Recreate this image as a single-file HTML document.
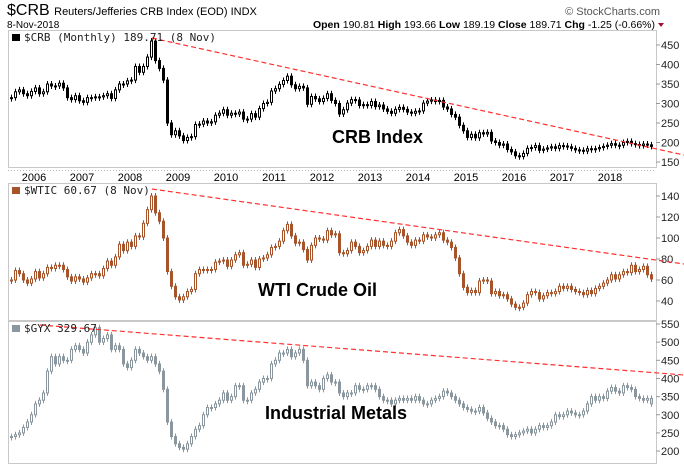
<!DOCTYPE html>
<html><head><meta charset="utf-8"><style>
body{margin:0;background:#fff;width:684px;height:465px;overflow:hidden;font-family:"Liberation Sans",sans-serif}
svg{display:block}
</style></head><body>
<svg width="684" height="465" id="c" font-family="Liberation Sans, sans-serif">
<text x="7" y="15" font-size="16">$CRB <tspan font-size="11">Reuters/Jefferies CRB Index (EOD)  INDX</tspan></text>
<text x="660" y="15" font-size="11" fill="#555" text-anchor="end">© StockCharts.com</text>
<text x="7" y="28" font-size="10">8-Nov-2018</text>
<text x="655" y="28" font-size="10.5" text-anchor="end"><tspan font-weight="bold">Open</tspan> 190.81 <tspan font-weight="bold">High</tspan> 193.66 <tspan font-weight="bold">Low</tspan> 189.19 <tspan font-weight="bold">Close</tspan> 189.71 <tspan font-weight="bold">Chg</tspan> -1.25 (-0.66%)</text>
<path d="M658 23 l6 0 l-3 4z" fill="#a01030"/>
</svg>
<script>
const years=[2006,2007,2008,2009,2010,2011,2012,2013,2014,2015,2016,2017,2018];
const startYear=2005.5;
const crb=[315,330,335,325,320,331,
340,325,330,350,345,345,352,340,315,310,320,307,
303,315,315,317,317,320,325,313,335,350,350,358,
360,395,380,395,419,460,410,390,360,250,220,230,
217,205,213,215,246,247,255,250,253,270,275,284,
270,275,273,278,260,260,274,265,287,300,303,332,
338,349,359,370,348,338,344,340,298,318,312,305,
313,325,308,300,273,284,301,310,309,295,297,295,
305,292,296,286,280,275,285,290,285,278,275,280,
281,301,306,309,305,308,291,286,272,265,244,230,
213,221,212,225,222,226,204,200,193,196,182,176,
166,164,172,185,187,192,180,183,186,189,185,192,
191,189,185,181,180,178,184,183,184,187,190,193,
197,193,193,200,203,197,195,192,196,194,190];
const wtic=[60,69,66,60,57,61,
68,62,66,72,71,74,74,70,63,59,63,61,
58,62,66,66,64,71,78,74,82,94,88,96,
92,102,101,114,127,140,124,116,100,68,54,44,
41,44,49,51,66,70,69,70,70,77,78,79,
73,79,84,86,74,75,79,72,80,81,84,91,
92,97,107,113,102,95,96,89,79,93,100,99,
98,107,103,104,86,85,88,96,92,86,88,92,
98,92,97,93,92,97,105,108,102,96,93,98,
97,103,101,100,103,105,98,96,91,81,66,53,
48,50,48,59,60,59,47,49,45,46,42,37,
34,34,38,46,49,48,42,45,48,47,49,54,
52,54,51,49,48,46,50,47,52,54,57,60,
65,61,65,68,67,74,68,70,73,65,61];
const gyx=[240,245,250,265,280,300,
330,340,360,420,460,440,460,450,450,480,490,480,
470,500,520,540,500,510,520,480,490,480,440,430,
450,480,470,460,450,460,440,420,370,280,240,220,
210,205,220,240,260,270,300,320,320,330,340,360,
340,350,380,380,340,340,360,370,390,400,400,440,
450,470,470,480,460,470,480,450,380,390,380,370,
400,410,390,390,360,350,360,360,380,370,370,380,
380,370,350,340,340,330,340,345,340,345,340,350,
340,330,330,340,345,350,365,360,350,340,330,320,
315,310,310,320,305,290,280,270,270,260,245,240,
245,250,255,260,250,260,270,265,270,280,300,295,
300,310,305,300,300,310,330,350,340,350,345,365,
375,365,360,380,375,370,350,345,340,345,330];
const crbTicks=[450,400,350,300,250,200,150];
const wticTicks=[140,120,100,80,60,40];
const gyxTicks=[550,500,450,400,350,300,250,200];

const NS='http://www.w3.org/2000/svg';
const svg=document.getElementById('c');
function el(tag,attrs,parent){const e=document.createElementNS(NS,tag);for(const k in attrs)e.setAttribute(k,attrs[k]);(parent||svg).appendChild(e);return e;}
const xT=t=>152+(t-2008.5)*48;
const xM=i=>xT(startYear+i/12)+2;
const panels=[
 {name:'crb',data:crb,ticks:crbTicks,top:30,bot:167,y:v=>45+(450-v)*0.39,color:'#000',label:'$CRB (Monthly) 189.71 (8 Nov)',title:'CRB Index',tx:332,ty:143,line:[152,38,684,155]},
 {name:'wtic',data:wtic,ticks:wticTicks,top:183,bot:320,y:v=>196+(140-v)*1.05,color:'#a8542a',label:'$WTIC 60.67 (8 Nov)',title:'WTI Crude Oil',tx:258,ty:296,line:[152,189,684,264]},
 {name:'gyx',data:gyx,ticks:gyxTicks,top:321,bot:463,y:v=>324+(550-v)*0.363,color:'#8a979e',label:'$GYX 329.67',title:'Industrial Metals',tx:265,ty:419,line:[40,325,684,375]}
];
panels.forEach(p=>{
 const g=el('g',{});
 
 
 const r=el('rect',{x:8.5,y:p.top+0.5,width:648,height:p.bot-p.top,fill:'#fff',stroke:'#c8c8c8'},g);
 
 
 p.ticks.forEach(v=>{
  const yy=p.y(v);
  const tl=el('line',{x1:656,x2:660,y1:yy,y2:yy,stroke:'#999'},g);
  
  
  const t=el('text',{x:661,y:yy+4,'font-size':11,fill:'#222'},g);
  t.textContent=v;
  
  
 });
 p.data.forEach((c,i)=>{
  const o=i>0?p.data[i-1]:c;
  const x=Math.round(xM(i));
  const yo=p.y(o),yc=p.y(c);
  const top=Math.min(yo,yc),bh=Math.max(1,Math.abs(yo-yc));
  const up=c>=o;
  const w=el('line',{x1:x+1.5,x2:x+1.5,y1:top-3,y2:top+bh+3,stroke:p.color,'stroke-width':1},g);
  
  
  const last=(p.name==='gyx'&&i===p.data.length-1);
  const b=el('rect',{x:x+0.5,y:top,width:2,height:bh,fill:last?'#f4f060':(up?'#fff':p.color),stroke:p.color,'stroke-width':1},g);
  
  
 });
 const l=p.line;
 const tr=el('line',{x1:l[0],y1:l[1],x2:l[2],y2:l[3],stroke:'#ff3030','stroke-width':1.2,'stroke-dasharray':'5,3'},g);
 
 
 const lb=el('text',{x:24,y:p.top+11,'font-size':11,'font-family':'DejaVu Sans Mono, Liberation Mono, monospace',fill:'#222'},g);
 lb.textContent=p.label;
 
 
 const ic=el('rect',{x:12,y:p.top+4,width:8,height:7,fill:p.color},g);
 
 
 const tt=el('text',{x:p.tx,y:p.ty,'font-size':18,'font-weight':'bold',fill:'#000'},g);
 tt.textContent=p.title;
 
 
});
const ax=el('g',{});


el('line',{x1:8,x2:656,y1:170.5,y2:170.5,stroke:'#bbb','stroke-dasharray':'1,2'},ax);
years.forEach(y=>{
 const t=el('text',{x:xT(y)+2,y:181,'font-size':11,'text-anchor':'middle',fill:'#000'},ax);
 t.textContent=y;
 
 
});
</script>
</body></html>
